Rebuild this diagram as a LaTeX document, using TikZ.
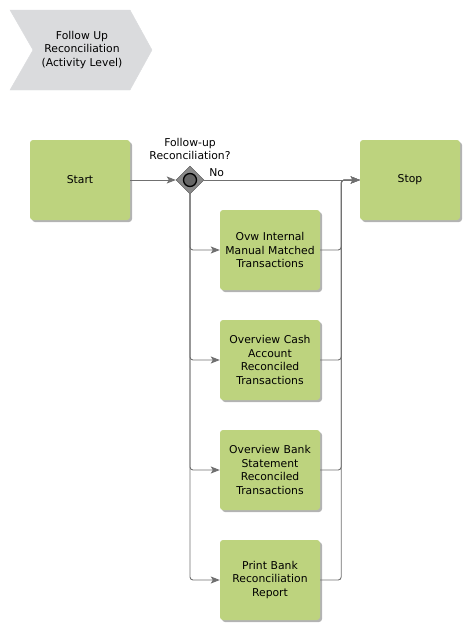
\documentclass[tikz,border=0pt]{standalone}
\usepackage{fontspec}
\setmainfont{DejaVu Sans}
\usetikzlibrary{shapes.geometric,shadows,arrows.meta}
\definecolor{taskgreen}{RGB}{189,211,126}
\definecolor{linegray}{RGB}{112,112,112}
\definecolor{chevgray}{RGB}{218,219,221}
\definecolor{gategray}{RGB}{138,138,138}

\begin{document}
\begin{tikzpicture}[x=1pt, y=-1pt,
  lbl/.style={align=center, font=\fontsize{10.8}{13.5}\selectfont},
  task/.style={lbl, rectangle, rounded corners=3pt, fill=taskgreen, minimum width=100pt, minimum height=80pt, text width=98pt, inner sep=0pt,
    drop shadow={shadow xshift=2pt, shadow yshift=-2pt, fill=black!50, opacity=0.6}},
  gate/.style={diamond, fill=gategray, draw=black!70, minimum size=28pt, inner sep=0pt},
  flow/.style={draw=linegray, line width=0.9pt, rounded corners=3pt, -{Stealth[length=9pt, width=7pt, inset=2pt]}, fill=none}]
\useasboundingbox (0,0) rectangle (470,630);

\filldraw[chevgray] (10,10) -- (130,10) -- (152,50) -- (130,90) -- (10,90) -- (33,50) -- cycle;
\node[lbl] (title) at (82,50) {Follow Up\\Reconciliation\\(Activity Level)};

\node[task] (start) at (80,180) {Start};
\node[task] (stop) at (410,180) {Stop};
\node[gate] (gw) at (190,180) {};
\draw[fill=black!60, draw=black, line width=1.3pt] (gw) circle (6.5pt);
\node[lbl] (gwlabel) at (190,149) {Follow-up\\Reconciliation?};

\node[task] (t-1) at (270,250) {Ovw Internal\\Manual Matched\\Transactions};
\node[task] (t-2) at (270,360) {Overview Cash\\Account\\Reconciled\\Transactions};
\node[task] (t-3) at (270,470) {Overview Bank\\Statement\\Reconciled\\Transactions};
\node[task] (t-4) at (270,580) {Print Bank\\Reconciliation\\Report};

\draw[flow] (start) -- (gw);
\draw[flow] (gw) -- node[lbl, pos=0.08, above] {No} (stop);

\foreach \i in {1,...,4} {
  \draw[flow] (gw.south) |- (t-\i.west);
  \draw[flow] (t-\i.east) -- ++(21,0) |- (stop.west);
}
\end{tikzpicture}
\end{document}
